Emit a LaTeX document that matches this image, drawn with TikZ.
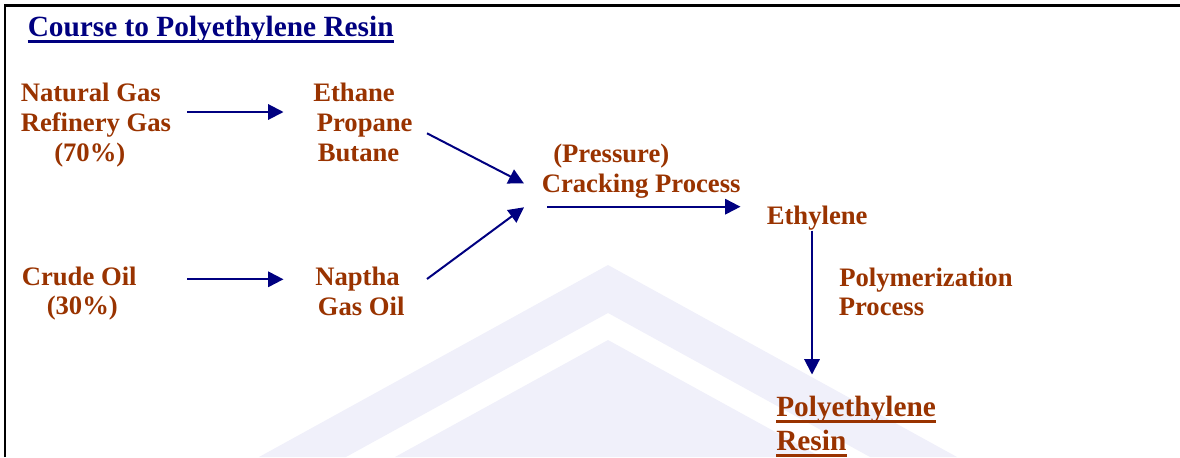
\documentclass[tikz,border=0pt]{standalone}
\usepackage{fontspec}
\setmainfont{Liberation Serif}
\usetikzlibrary{arrows.meta}
\definecolor{navyblue}{RGB}{0,0,128}
\definecolor{rustbrown}{RGB}{153,51,0}
\definecolor{wmlilac}{RGB}{240,240,250}

\begin{document}
\begin{tikzpicture}[x=0.75pt,y=0.75pt,yscale=-1,xscale=1,
  lbl/.style={anchor=base west,inner sep=0pt,text=rustbrown,font=\fontsize{20}{24}\selectfont\bfseries},
  biglbl/.style={lbl,font=\fontsize{22}{26}\selectfont\bfseries},
  flow/.style={draw=navyblue,line width=1.5pt,-{Triangle[length=11.5pt,width=11.5pt]}}]
\useasboundingbox (0,0) rectangle (1180,457);

%Shape: Watermark [outer band]
\fill[wmlilac] (259,457) -- (608,265) -- (957,457) -- (870,457) -- (608,313) -- (346,457) -- cycle;
%Shape: Watermark [inner part]
\fill[wmlilac] (395,457) -- (608,340) -- (821,457) -- cycle;

%Straight Lines [frame]
\draw[line width=1.6pt] (5,457) -- (5,5.5) -- (1180,5.5);

% Text Node
\node[biglbl,text=navyblue] (title) at (27.5,36) {Course to Polyethylene Resin};
\draw[navyblue,line width=1.8pt] ([yshift=4pt]title.base west) -- ([yshift=4pt]title.base east);

% Text Node
\node[lbl] (natgas) at (20.5,101) {Natural Gas};
\node[lbl] (refgas) at (20.5,131) {Refinery Gas};
\node[lbl] (pct70) at (54,161.5) {(70\%)};
% Text Node
\node[lbl] (ethane) at (313,101) {Ethane};
\node[lbl] (propane) at (316.5,131) {Propane};
\node[lbl] (butane) at (317.5,161.5) {Butane};
% Text Node
\node[lbl] (crude) at (21.5,285) {Crude Oil};
\node[lbl] (pct30) at (46.5,314.5) {(30\%)};
% Text Node
\node[lbl] (naptha) at (315,285) {Naptha};
\node[lbl] (gasoil) at (317.5,315) {Gas Oil};
% Text Node
\node[lbl] (pressure) at (553,162.5) {(Pressure)};
\node[lbl] (cracking) at (541.5,192.5) {Cracking Process};
% Text Node
\node[lbl] (ethylene) at (766.5,224) {Ethylene};
% Text Node
\node[lbl] (polymer) at (839,286) {Polymerization};
\node[lbl] (process) at (838.5,315) {Process};
% Text Node
\node[biglbl] (peresin) at (776,416.7) {Polyethylene};
\draw[rustbrown,line width=2.2pt] ([yshift=3.3pt]peresin.base west) -- ([yshift=3.3pt]peresin.base east);
\node[biglbl] (resin) at (776,450.7) {Resin};
\draw[rustbrown,line width=2.2pt] ([yshift=3.6pt]resin.base west) -- ([yshift=3.6pt]resin.base east);

%Straight Lines [arrow ends]
\coordinate (gasout) at (187,112);
\coordinate (gasin) at (283.5,112);
\coordinate (oilout) at (187,279.3);
\coordinate (oilin) at (283.5,279.3);
\coordinate (lpgout) at (427,133.3);
\coordinate (lpgin) at (524,183.5);
\coordinate (naphout) at (427,279);
\coordinate (naphin) at (524,207.3);
\coordinate (crackout) at (547,206.7);
\coordinate (crackin) at (740.5,206.7);
\coordinate (ethout) at (812,230.5);
\coordinate (ethin) at (812,374.5);

\draw[flow] (gasout) -- (gasin);
\draw[flow] (oilout) -- (oilin);
\draw[flow] (lpgout) -- (lpgin);
\draw[flow] (naphout) -- (naphin);
\draw[flow] (crackout) -- (crackin);
\draw[flow] (ethout) -- (ethin);

\end{tikzpicture}
\end{document}
